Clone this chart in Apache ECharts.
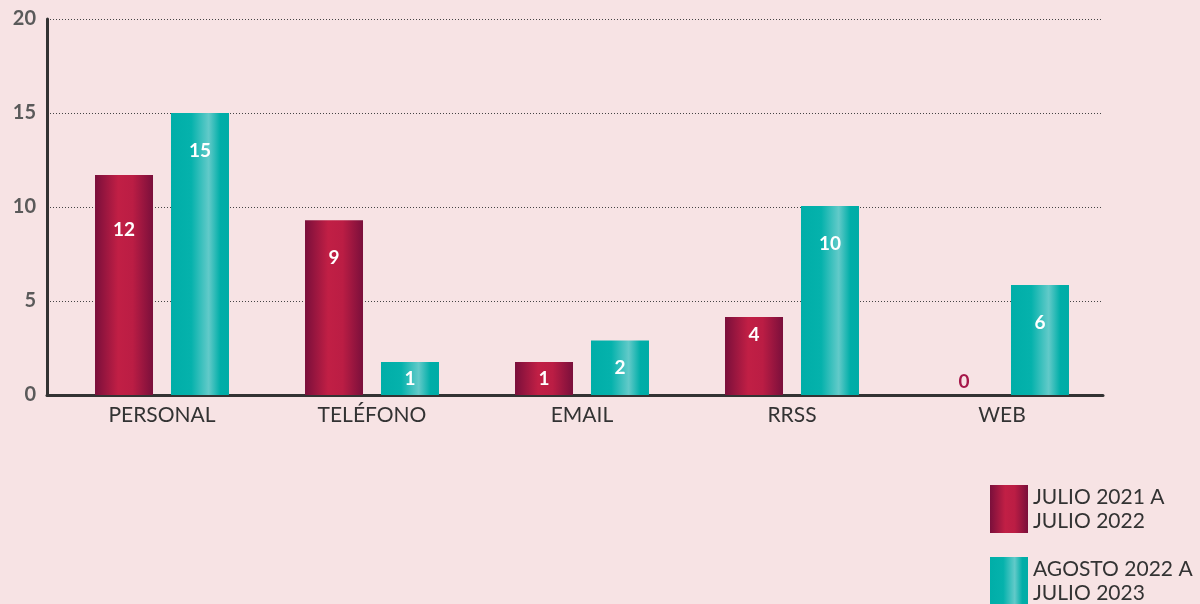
<!DOCTYPE html>
<html>
<head>
<meta charset="utf-8">
<script src="https://cdn.jsdelivr.net/npm/echarts@6/dist/echarts.min.js"></script>
<style>
  html, body { margin: 0; padding: 0; background: #f7e3e4; }
  #chart { width: 1200px; height: 604px; }
</style>
</head>
<body>
<div id="chart"></div>
<script>
var categories = ['PERSONAL', 'TELÉFONO', 'EMAIL', 'RRSS', 'WEB'];
var seriesNames = ['JULIO 2021 A\nJULIO 2022', 'AGOSTO 2022 A\nJULIO 2023'];
var heights2122 = [11.7, 9.3, 1.75, 4.15, 0];
var heights2223 = [15, 1.75, 2.9, 10.05, 5.85];
var labels2122 = [12, 9, 1, 4, 0];
var labels2223 = [15, 1, 2, 10, 6];
var yTicks = [0, 5, 10, 15, 20];

var maroon = {
    type: 'linear', x: 0, y: 0, x2: 1, y2: 0,
    colorStops: [
        {offset: 0, color: '#7a0f3b'},
        {offset: 0.4, color: '#c11f45'},
        {offset: 0.65, color: '#bb1d44'},
        {offset: 1, color: '#7a0f3b'}
    ]
};
var teal = {
    type: 'linear', x: 0, y: 0, x2: 1, y2: 0,
    colorStops: [
        {offset: 0, color: '#00aea8'},
        {offset: 0.35, color: '#05b2ac'},
        {offset: 0.65, color: '#62cac9'},
        {offset: 0.85, color: '#00aea8'},
        {offset: 1, color: '#00aca6'}
    ]
};

function buildData(heights, labels, zeroColor) {
    return heights.map(function (h, i) {
        var lbl;
        if (h === 0) {
            lbl = {position: 'top', distance: 4, color: zeroColor};
        } else if (h < 3) {
            lbl = {position: 'inside'};
        } else if (h < 5) {
            lbl = {position: 'insideTop', distance: 8};
        } else if (h < 11 || h > 14) {
            lbl = {position: 'insideTop', distance: 28};
        } else {
            lbl = {position: 'insideTop', distance: 45};
        }
        return {value: h, shown: labels[i], label: lbl};
    });
}

var chart = echarts.init(document.getElementById('chart'));
var labelStyle = {
    show: true,
    color: '#ffffff',
    fontFamily: 'Lato',
    fontWeight: 'bold',
    fontSize: 19,
    formatter: function (p) { return p.data.shown; }
};
var legendText = {color: '#333333', fontFamily: 'Lato', fontSize: 21, lineHeight: 24};

chart.setOption({
    backgroundColor: '#f7e3e4',
    animation: false,
    grid: [
        // ejes y lineas de guia
        {left: 47, top: 19, width: 1056, height: 376},
        // barras
        {left: 57, top: 19, width: 1050, height: 376}
    ],
    legend: [
        {
            left: 990, top: 485, padding: 0, itemWidth: 38, itemHeight: 48, icon: 'rect',
            textStyle: legendText, data: [seriesNames[0]]
        },
        {
            left: 990, top: 557, padding: 0, itemWidth: 38, itemHeight: 48, icon: 'rect',
            textStyle: legendText, data: [seriesNames[1]]
        }
    ],
    xAxis: [
        {
            type: 'value', gridIndex: 0, min: 0, max: 1,
            axisLine: {show: true, lineStyle: {color: '#333333', width: 3}},
            axisTick: {show: false}, axisLabel: {show: false}, splitLine: {show: false}
        },
        {
            type: 'category', gridIndex: 1,
            data: categories,
            axisLine: {show: false},
            axisTick: {show: false},
            axisLabel: {color: '#333333', fontFamily: 'Lato', fontSize: 21, margin: 10}
        }
    ],
    yAxis: [
        {
            type: 'value', gridIndex: 0,
            min: yTicks[0],
            max: yTicks[yTicks.length - 1],
            interval: 5,
            axisLine: {show: true, lineStyle: {color: '#333333', width: 3}},
            axisTick: {show: false},
            axisLabel: {color: '#5a5a5a', fontFamily: 'Lato', fontWeight: 'bold', fontSize: 20, margin: 11},
            splitLine: {lineStyle: {color: '#444444', type: [1, 2], width: 1}}
        },
        {
            type: 'value', gridIndex: 1,
            min: yTicks[0],
            max: yTicks[yTicks.length - 1],
            show: false
        }
    ],
    series: [
        {
            name: seriesNames[0],
            type: 'bar',
            xAxisIndex: 1, yAxisIndex: 1,
            barWidth: 58,
            barGap: '31%',
            itemStyle: {color: maroon},
            label: labelStyle,
            data: buildData(heights2122, labels2122, '#a6184a')
        },
        {
            name: seriesNames[1],
            type: 'bar',
            xAxisIndex: 1, yAxisIndex: 1,
            barWidth: 58,
            barGap: '31%',
            itemStyle: {color: teal},
            label: labelStyle,
            data: buildData(heights2223, labels2223, '#00aea8')
        }
    ]
});
</script>
</body>
</html>
